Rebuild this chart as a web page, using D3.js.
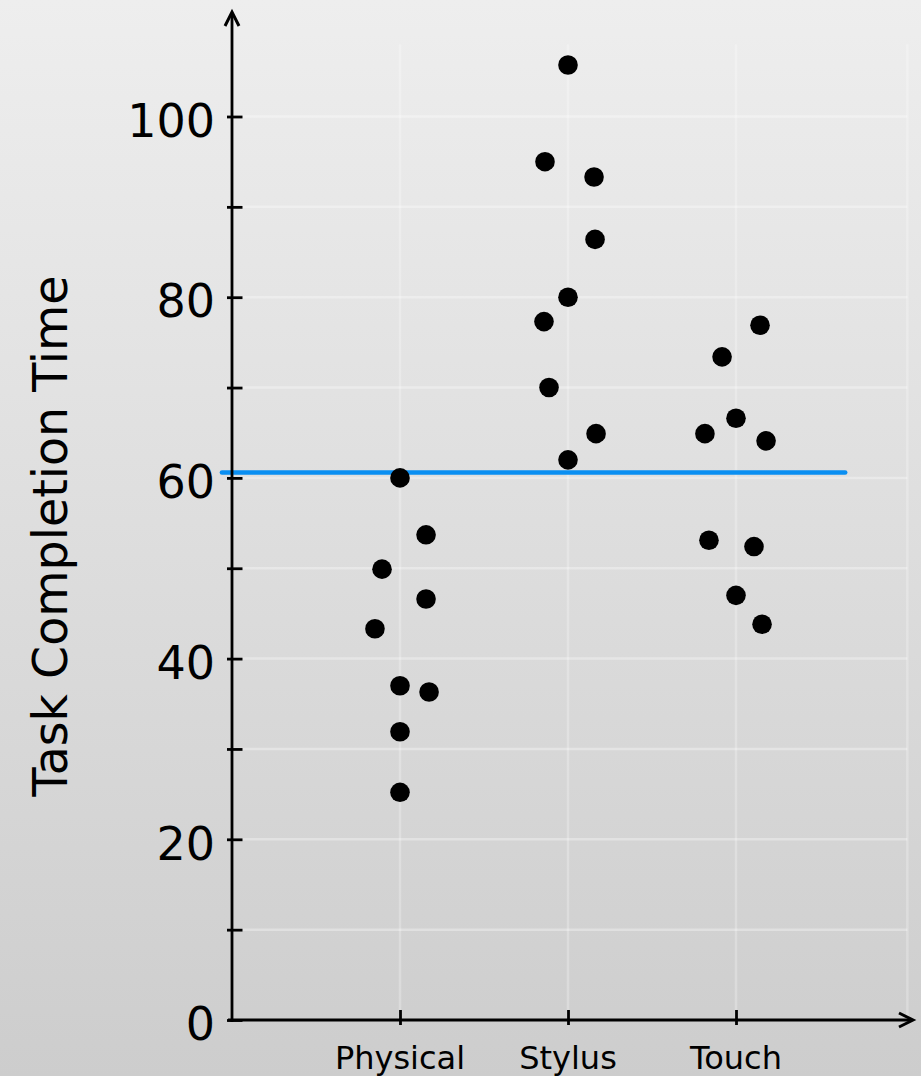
<!DOCTYPE html>
<html>
<head>
<meta charset="utf-8">
<script src="https://cdn.jsdelivr.net/npm/d3@7"></script>
<style>
  html, body { margin: 0; padding: 0; }
  body { width: 921px; height: 1076px; overflow: hidden; }
  text { font-family: "DejaVu Sans", sans-serif; fill: #000; }
</style>
</head>
<body>
<div id="chart"></div>
<script>
// categories and their dots (value, horizontal jitter in category units)
var categories = ['Physical', 'Stylus', 'Touch'];

var physicalValues = [60.0, 49.9, 53.7, 46.6, 43.3, 37.0, 36.3, 31.9, 25.2];
var physicalJitter = [0, -0.107, 0.155, 0.155, -0.149, 0, 0.173, 0, 0];

var stylusValues = [105.7, 95.0, 93.3, 86.4, 80.0, 77.3, 70.0, 64.9, 62.0];
var stylusJitter = [0, -0.137, 0.155, 0.161, 0, -0.143, -0.113, 0.167, 0];

var touchValues = [76.9, 73.4, 64.9, 66.6, 64.1, 53.1, 52.4, 47.0, 43.8];
var touchJitter = [0.143, -0.083, -0.185, 0, 0.179, -0.161, 0.107, 0, 0.155];

var yTicks = [0, 20, 40, 60, 80, 100];
var yMinorTicks = [10, 30, 50, 70, 90];
var gridValues = [10, 20, 30, 40, 50, 60, 70, 80, 90, 100];

// overall mean reference line
var meanValue = 60.6;
var meanFrom = -0.06, meanTo = 3.65;

var width = 921, height = 1076;

var svg = d3.select('#chart')
    .append('svg')
    .attr('width', width)
    .attr('height', height);

var defs = svg.append('defs');
var grad = defs.append('linearGradient')
    .attr('id', 'bg')
    .attr('x1', 0).attr('y1', 0).attr('x2', 0).attr('y2', 1);
grad.append('stop').attr('offset', '0%').attr('stop-color', '#eeeeee');
grad.append('stop').attr('offset', '100%').attr('stop-color', '#cdcdcd');

svg.append('rect')
    .attr('width', width).attr('height', height)
    .attr('fill', 'url(#bg)');

var x = d3.scaleLinear().domain([0, 4]).range([232, 904]);
var y = d3.scaleLinear().domain([0, 100]).range([1020, 116.5]);

// gridlines
var grid = svg.append('g')
    .attr('stroke', '#ffffff')
    .attr('stroke-width', 2.5);
grid.selectAll('line.h')
    .data(gridValues)
    .enter().append('line')
    .attr('class', 'h')
    .attr('stroke-opacity', 0.32)
    .attr('x1', x(0)).attr('x2', x(4.02))
    .attr('y1', function(d) { return y(d); })
    .attr('y2', function(d) { return y(d); });
grid.selectAll('line.v')
    .data([1, 2, 3, 4.02])
    .enter().append('line')
    .attr('class', 'v')
    .attr('stroke-opacity', 0.25)
    .attr('x1', function(d) { return x(d); })
    .attr('x2', function(d) { return x(d); })
    .attr('y1', y(0)).attr('y2', y(108));

// mean line
svg.append('line')
    .attr('x1', x(meanFrom)).attr('x2', x(meanTo))
    .attr('y1', y(meanValue)).attr('y2', y(meanValue))
    .attr('stroke', '#0a8ff2')
    .attr('stroke-width', 4.5)
    .attr('stroke-linecap', 'round');

// y axis
var yAxis = d3.axisLeft(y)
    .tickValues(yTicks.concat(yMinorTicks))
    .tickSize(0)
    .tickFormat('');
var gy = svg.append('g')
    .attr('transform', 'translate(' + x(0) + ',0)')
    .call(yAxis);
gy.select('.domain').remove();
gy.selectAll('.tick line')
    .attr('x1', -5).attr('x2', 10.5)
    .attr('stroke', '#000')
    .attr('stroke-width', 2.8);

svg.append('g').selectAll('text')
    .data(yTicks)
    .enter().append('text')
    .attr('x', 215)
    .attr('y', function(d) { return y(d); })
    .attr('dy', '0.44em')
    .attr('text-anchor', 'end')
    .attr('font-size', 46)
    .text(function(d) { return d; });

// x axis
var xAxis = d3.axisBottom(x)
    .tickValues([1, 2, 3])
    .tickSize(0)
    .tickFormat('');
var gx = svg.append('g')
    .attr('transform', 'translate(0,' + y(0) + ')')
    .call(xAxis);
gx.select('.domain').remove();
gx.selectAll('.tick line')
    .attr('y1', -10).attr('y2', 5)
    .attr('stroke', '#000')
    .attr('stroke-width', 2.8);

svg.append('g').selectAll('text')
    .data(categories)
    .enter().append('text')
    .attr('x', function(d, i) { return x(i + 1); })
    .attr('y', 1069)
    .attr('text-anchor', 'middle')
    .attr('font-size', 32)
    .text(function(d) { return d; });

// axis lines with arrows
var axes = svg.append('g')
    .attr('stroke', '#000')
    .attr('stroke-width', 2.8)
    .attr('fill', 'none');
axes.append('line')
    .attr('x1', x(0)).attr('x2', x(0))
    .attr('y1', y(0) + 2).attr('y2', 13);
axes.append('line')
    .attr('x1', x(0) - 4).attr('x2', 912)
    .attr('y1', y(0)).attr('y2', y(0));
axes.append('path')
    .attr('stroke-width', 3)
    .attr('d', 'M' + (x(0) - 7) + ',26 L' + x(0) + ',12 L' + (x(0) + 7) + ',26');
axes.append('path')
    .attr('stroke-width', 3)
    .attr('d', 'M899,' + (y(0) - 7) + ' L913,' + y(0) + ' L899,' + (y(0) + 7));

// dots
var series = [
    {values: physicalValues, jitter: physicalJitter},
    {values: stylusValues, jitter: stylusJitter},
    {values: touchValues, jitter: touchJitter}
];
series.forEach(function(s, i) {
    svg.append('g').selectAll('circle')
        .data(s.values)
        .enter().append('circle')
        .attr('cx', function(d, j) { return x(i + 1 + s.jitter[j]); })
        .attr('cy', function(d) { return y(d); })
        .attr('r', 9.8)
        .attr('fill', '#000');
});

// y label
svg.append('text')
    .attr('transform', 'translate(67,536) rotate(-90)')
    .attr('text-anchor', 'middle')
    .attr('font-size', 47.5)
    .text('Task Completion Time');
</script>
</body>
</html>
